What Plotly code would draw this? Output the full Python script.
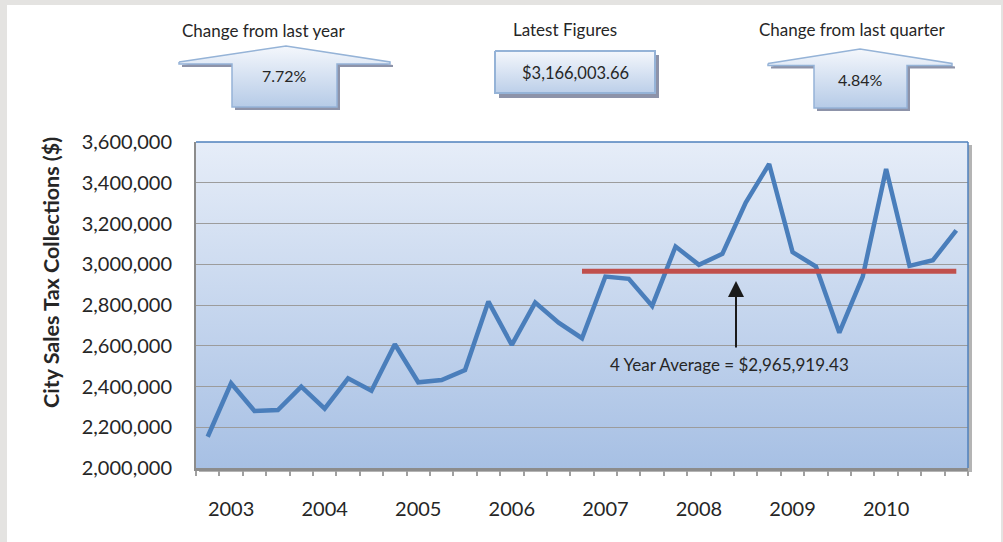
import plotly.graph_objects as go

# quarterly city sales tax collections, Q4 2002 .. Q4 2010
values = [2153300, 2415700, 2279600, 2284500, 2399000, 2290900, 2440300, 2379400,
          2607400, 2420600, 2431900, 2481100, 2816700, 2603900, 2811800, 2713500,
          2636900, 2939600, 2928300, 2795600, 3087000, 2997000, 3051100, 3303200,
          3491900, 3059500, 2988700, 2664400, 2939105, 3467300, 2992100, 3019843,
          3166004]
quarter_idx = list(range(len(values)))
year_labels = ["2003", "2004", "2005", "2006", "2007", "2008", "2009", "2010"]
year_first_q = [1, 5, 9, 13, 17, 21, 25, 29]

avg_value = 2965919.43
avg_span = [16, 32]
latest_text = "$3,166,003.66"
yoy_text = "7.72%"
qoq_text = "4.84%"

W, H = 1003, 542
PL, PR, PT, PB = 196, 968, 142, 468  # plot area in px
FONT = "Lato"
TXT = "#262626"

fig = go.Figure()


def poly(xs, ys, fill=None, grad=None, line=None):
    # filled polygon in pixel space (xaxis/yaxis = page pixels)
    kw = dict(x=xs + [xs[0]], y=ys + [ys[0]], mode="lines", fill="toself",
              hoverinfo="skip", showlegend=False, xaxis="x", yaxis="y")
    if grad:
        kw["fillgradient"] = dict(type="vertical", start=min(ys), stop=max(ys),
                                  colorscale=[[0, grad[0]], [1, grad[1]]])
    else:
        kw["fillcolor"] = fill
    kw["line"] = line if line else dict(width=0)
    fig.add_trace(go.Scatter(**kw))


# plot area shadow + gradient background
poly([PL + 3, PR + 4, PR + 4, PL + 3], [PT + 3, PT + 3, PB + 4, PB + 4], fill="#b4b4b4")
poly([PL, PR, PR, PL], [PT, PT, PB, PB], grad=("#e6edf8", "#a7c0e4"))


def up_callout(tl, peak, tr, under, bl, br, bottom, dx=3, dy=3):
    xs = [tl, peak[0], tr, tr, br, br, bl, bl, tl]
    ys = [under - 2, peak[1], under - 2, under, under, bottom, bottom, under, under]
    poly([x + dx for x in xs], [y + dy for y in ys], fill="#8d93a9")
    poly(xs, ys, grad=("#f4f7fc", "#b6cbe7"), line=dict(color="#95b3d7", width=1.5))


up_callout(179, (286, 46), 390, 64, 232, 337, 107)
up_callout(768, (860, 49), 952, 65.5, 814, 907, 108)

# latest figures box
poly([499, 659, 659, 499], [55, 55, 98, 98], fill="#8d93a9")
poly([495, 655, 655, 495], [51, 51, 93, 93], grad=("#f4f7fc", "#bccfe9"),
     line=dict(color="#95b3d7", width=2))

# data
fig.add_trace(go.Scatter(x=quarter_idx, y=values, mode="lines", xaxis="x2", yaxis="y2",
                         line=dict(color="#4a7ebb", width=4.5), showlegend=False))
fig.add_trace(go.Scatter(x=avg_span, y=[avg_value, avg_value], mode="lines", xaxis="x2",
                         yaxis="y2", line=dict(color="#c0504d", width=5), showlegend=False))

ann = []


def label(x, y, text, size=17, **kw):
    ann.append(dict(x=x, y=y, xref="x", yref="y", text=text, showarrow=False,
                    font=dict(family=FONT, size=size, color=TXT), **kw))


label(263, 30, "Change from last year")
label(565, 29, "Latest Figures")
label(852, 29, "Change from last quarter")
label(284, 75, yoy_text, size=16)
label(575, 73, latest_text, size=16.5)
label(860, 79, qoq_text, size=16)
label(729, 364, "4 Year Average = $2,965,919.43")
ann.append(dict(x=736, y=281, xref="x", yref="y", ax=736, ay=349, axref="x", ayref="y",
                text="", showarrow=True, arrowhead=2, arrowsize=1.6, arrowwidth=2,
                arrowcolor="#1a1a1a"))
ann.append(dict(x=51 / W, y=1 - 273 / H, xref="paper", yref="paper",
                xanchor="center", yanchor="middle",
                text="<b>City Sales Tax Collections ($)</b>", textangle=-90,
                showarrow=False, font=dict(family=FONT, size=21.5, color=TXT)))

shapes = [
    dict(type="rect", xref="paper", yref="paper", x0=7 / W, x1=1001 / W, y0=0,
         y1=1 - 5 / H, fillcolor="white", line=dict(width=0), layer="below"),
    # top and right border in blue
    dict(type="line", xref="x", yref="y", x0=PL, x1=PR, y0=PT, y1=PT,
         line=dict(color="#4f81bd", width=1.5)),
    dict(type="line", xref="x", yref="y", x0=PR, x1=PR, y0=PT, y1=PB,
         line=dict(color="#4f81bd", width=1.5)),
]

fig.update_layout(
    template="none",
    width=W, height=H, margin=dict(l=0, r=0, t=0, b=0, autoexpand=False),
    paper_bgcolor="#e4e3e1", plot_bgcolor="rgba(0,0,0,0)",
    font=dict(family=FONT, color=TXT),
    xaxis=dict(domain=[0, 1], range=[0, W], visible=False, fixedrange=True,
               automargin=False),
    yaxis=dict(domain=[0, 1], range=[H, 0], visible=False, fixedrange=True,
               automargin=False),
    xaxis2=dict(domain=[PL / W, PR / W], anchor="y2", range=[-0.5, 32.5],
                tickmode="array", tickvals=year_first_q, ticktext=year_labels,
                ticks="", showgrid=False, zeroline=False, showline=True,
                linecolor="#8c8c8c", linewidth=2.5, ticklabelstandoff=21,
                automargin=False,
                tickfont=dict(size=20, family=FONT, color=TXT),
                minor=dict(tickvals=[i - 0.5 for i in range(len(values) + 1)],
                           ticks="outside", ticklen=5, tickcolor="#a0a0a0",
                           tickwidth=1.5, showgrid=False)),
    yaxis2=dict(domain=[1 - PB / H, 1 - PT / H], anchor="x2", range=[2000000, 3600000],
                dtick=200000, tickformat=",", ticks="", showgrid=True,
                gridcolor="#9c9c9c", gridwidth=1.3, zeroline=False, showline=True,
                linecolor="#8c8c8c", linewidth=2, ticklabelstandoff=18,
                automargin=False,
                tickfont=dict(size=20, family=FONT, color=TXT)),
    annotations=ann, shapes=shapes, showlegend=False,
)

fig.write_html("out.html", config={"displayModeBar": False},
               post_script="document.body.style.margin='0';"
                           "document.body.style.overflow='hidden';")
